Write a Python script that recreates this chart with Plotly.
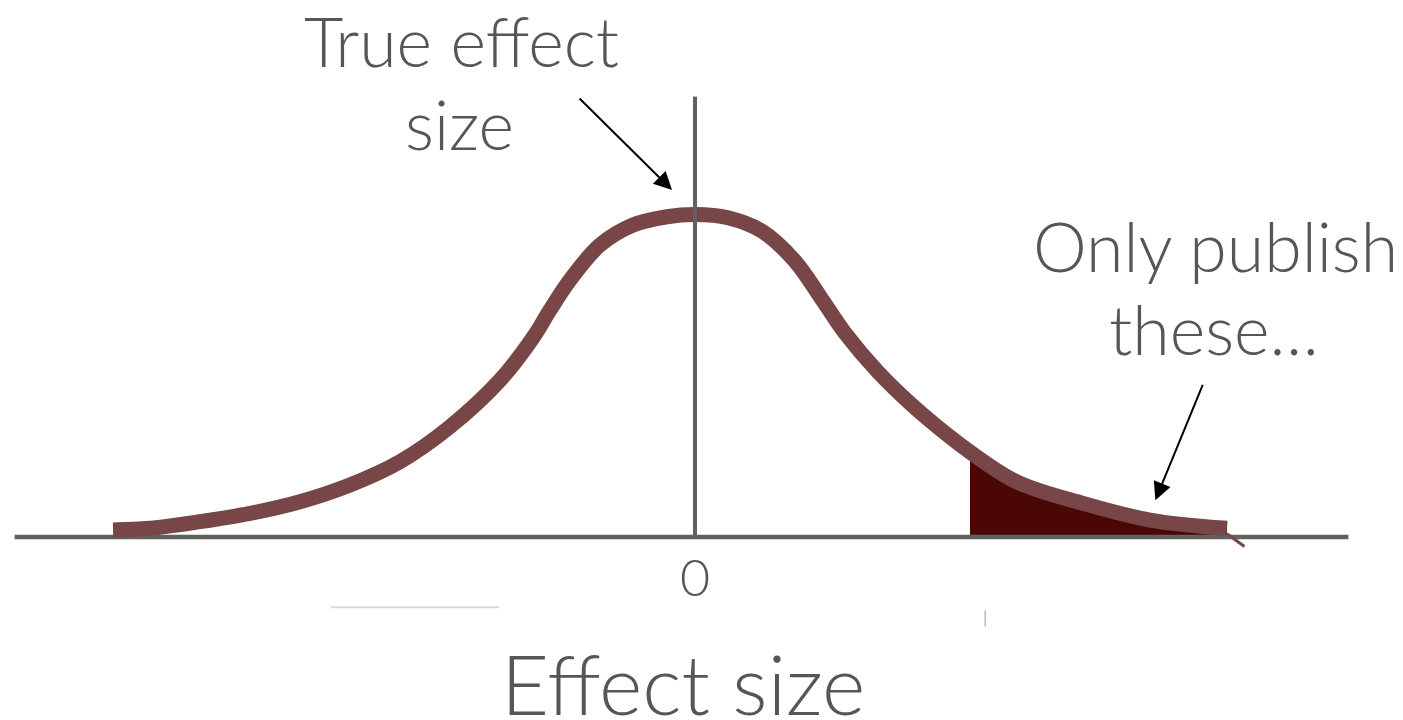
import plotly.graph_objects as go

# curve: effect size (sd units) vs. density
effect = [-4.311, -4.037, -3.667, -3.296, -2.926, -2.556, -2.186, -1.815, -1.444, -1.200,
          -1.074, -0.926, -0.704, -0.459, -0.207, 0.000, 0.244, 0.496, 0.741, 0.941,
          1.111, 1.356, 1.607, 1.889, 2.037, 2.385, 2.874, 3.370, 3.941]
density = [0.0088, 0.0109, 0.0192, 0.0296, 0.0442, 0.0652, 0.0944, 0.1383, 0.1967, 0.2500,
           0.2846, 0.3222, 0.3661, 0.3912, 0.4016, 0.4044, 0.4003, 0.3835, 0.3458, 0.2978,
           0.2558, 0.2069, 0.1655, 0.1254, 0.1066, 0.0690, 0.0422, 0.0213, 0.0109]

cutoff = 2.037          # start of the "published" tail
axis_left, axis_right = -5.04, 4.84
vline_top = 0.552

CURVE = "#784646"
TAIL = "#4b0606"
AXIS = "#5e6360"
TEXT = "#565656"
FONT = "Lato"

# the page adds an 8px body margin, so the origin sits 8px up/left in figure pixels
W, H = 1403, 720
PX_X, PX_Y = 135, 797.5      # pixels per unit
X0, Y0 = 687, 529            # figure pixel of the origin

tail_x = [x for x in effect if x >= cutoff]
tail_y = [density[effect.index(x)] for x in tail_x]

fig = go.Figure()

# shaded tail
fig.add_trace(go.Scatter(x=[cutoff] + tail_x + [tail_x[-1]], y=[0] + tail_y + [0],
                         mode="lines", line=dict(width=0, color=TAIL),
                         fill="toself", fillcolor=TAIL, hoverinfo="skip"))

# axes
fig.add_trace(go.Scatter(x=[axis_left, axis_right], y=[0, 0], mode="lines",
                         line=dict(color=AXIS, width=4.5), hoverinfo="skip"))
fig.add_trace(go.Scatter(x=[0, 0], y=[0, vline_top], mode="lines",
                         line=dict(color=AXIS, width=4), hoverinfo="skip"))

# distribution curve
fig.add_trace(go.Scatter(x=effect, y=density, mode="lines",
                         line=dict(color=CURVE, width=15, shape="spline", smoothing=1),
                         hoverinfo="skip"))
# small hook at the right end of the curve
fig.add_trace(go.Scatter(x=[3.94, 4.07], y=[0.004, -0.012], mode="lines",
                         line=dict(color=CURVE, width=3), hoverinfo="skip"))
# vertical line over the peak
fig.add_trace(go.Scatter(x=[0, 0], y=[0.30, vline_top], mode="lines",
                         line=dict(color=AXIS, width=4), hoverinfo="skip"))

# faint leftover strokes under the axis
fig.add_trace(go.Scatter(x=[-2.70, -1.45], y=[-0.088, -0.088], mode="lines",
                         line=dict(color="#dadada", width=2), hoverinfo="skip"))
fig.add_trace(go.Scatter(x=[2.15, 2.15], y=[-0.092, -0.112], mode="lines",
                         line=dict(color="#b8b8b8", width=1.5), hoverinfo="skip"))


def label(text, x, y, size):
    fig.add_annotation(x=x, y=y, text=text, showarrow=False,
                       xanchor="center", yanchor="middle",
                       font=dict(family=FONT, size=size, color=TEXT, weight=300))


label("True effect", -1.726, 0.622, 68)
label("size", -1.741, 0.519, 68)
label("Only publish", 3.852, 0.365, 68)
label("these…", 3.844, 0.262, 68)
label("0", 0, -0.049, 52)
label("Effect size", -0.089, -0.183, 83)

# arrows
fig.add_annotation(x=-0.17, y=0.435, ax=-94, ay=-93, showarrow=True,
                   arrowhead=2, arrowsize=1.8, arrowwidth=2, arrowcolor="black", text="")
fig.add_annotation(x=3.41, y=0.046, ax=48, ay=-117, showarrow=True,
                   arrowhead=2, arrowsize=1.8, arrowwidth=2, arrowcolor="black", text="")

fig.update_xaxes(visible=False, range=[-X0 / PX_X, (W - X0) / PX_X])
fig.update_yaxes(visible=False, range=[-(H - Y0) / PX_Y, Y0 / PX_Y])
fig.update_layout(width=W, height=H, margin=dict(l=0, r=0, t=0, b=0),
                  plot_bgcolor="white", paper_bgcolor="white", showlegend=False)

fig.write_html("out.html")
